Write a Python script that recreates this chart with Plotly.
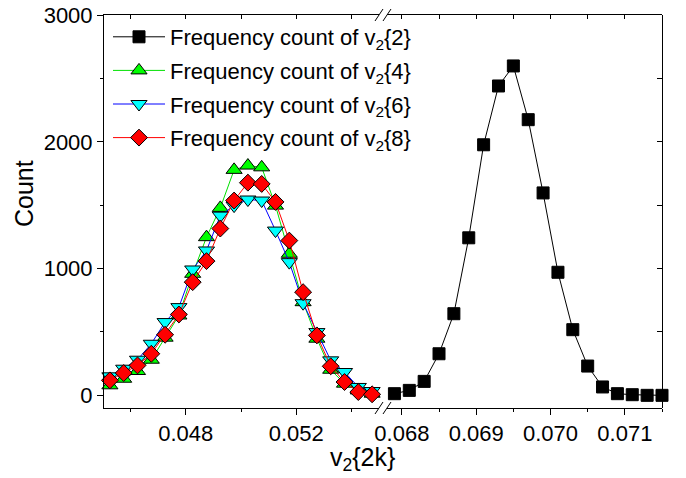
import plotly.graph_objects as go

# ---------------- data ----------------
v2k_left = [0.04525, 0.04575, 0.04625, 0.04675, 0.04725, 0.04775, 0.04825,
            0.04875, 0.04925, 0.04975, 0.05025, 0.05075, 0.05125, 0.05175,
            0.05225, 0.05275, 0.05325, 0.05375, 0.05425, 0.05475]
count_v2_4 = [79, 131, 192, 281, 455, 630, 959, 1248, 1479, 1779, 1813, 1799,
              1497, 1117, 735, 447, 202, 92, 39, 13]
count_v2_6 = [150, 210, 281, 407, 578, 696, 993, 1143, 1418, 1497, 1545, 1537,
              1300, 1051, 727, 499, 276, 184, 66, 34]
count_v2_8 = [118, 176, 236, 328, 478, 638, 893, 1059, 1316, 1537, 1678, 1668,
              1526, 1221, 814, 473, 229, 105, 26, 8]

v2k_right = [0.0679, 0.0681, 0.0683, 0.0685, 0.0687, 0.0689, 0.0691, 0.0693,
             0.0695, 0.0697, 0.0699, 0.0701, 0.0703, 0.0705, 0.0707, 0.0709,
             0.0711, 0.0713, 0.0715]
count_v2_2 = [13, 39, 110, 328, 644, 1243, 1977, 2441, 2599, 2175, 1597, 971,
              518, 231, 66, 13, 5, 0, 0]

y_tickvals = [0, 1000, 2000, 3000]

names = ["Frequency count of v<sub>2</sub>{2}",
         "Frequency count of v<sub>2</sub>{4}",
         "Frequency count of v<sub>2</sub>{6}",
         "Frequency count of v<sub>2</sub>{8}"]

x_title = "v<sub>2</sub>{2k}"
y_title = "Count"

# ---------------- styling ----------------
FONT = "Liberation Sans, Arial, sans-serif"
W, H = 686, 478
# plot area in page pixels
PL, PR, PT, PB = 103, 662, 15, 408
ML, MT = PL, PT
MR, MB = W - PR, H - PB
PW = PR - PL
PH = PB - PT

def px(xp):          # page x pixel -> paper coordinate
    return (xp - PL) / PW

def py(yp):          # page y pixel -> paper coordinate
    return (PB - yp) / PH

left_dom = [0, px(379)]
right_dom = [px(387), 1]
left_rng = [0.045, 0.055]
right_rng = [0.0678, 0.0715]
y_rng = [-100, 3001]

fig = go.Figure()

series = [
    (v2k_right, count_v2_2, "x2", "black", "black", "square", 12, names[0]),
    (v2k_left, count_v2_4, "x", "#00e000", "#00ff00", "triangle-up", 14, names[1]),
    (v2k_left, count_v2_6, "x", "#0000ff", "#00ffff", "triangle-down", 14, names[2]),
    (v2k_left, count_v2_8, "x", "#ff0000", "#ff0000", "diamond", 13, names[3]),
]
for i, (xs, ys, xa, lc, fc, sym, sz, nm) in enumerate(series):
    fig.add_trace(go.Scatter(
        x=xs, y=ys, xaxis=xa, yaxis="y", mode="lines+markers", name=nm,
        legendgroup="g%d" % i, cliponaxis=False,
        line=dict(color=lc, width=1),
        marker=dict(symbol=sym, size=sz, color=fc,
                    line=dict(color="black", width=1)),
    ))

# empty helper traces so that the mirrored tick axes exist
for xa, ya in (("x3", "y"), ("x4", "y"), ("x", "y2")):
    fig.add_trace(go.Scatter(x=[], y=[], xaxis=xa, yaxis=ya, showlegend=False,
                             hoverinfo="skip"))

tickfont = dict(family=FONT, size=22, color="black")
common_x = dict(showline=True, linecolor="black", linewidth=1, mirror=True,
                ticks="outside", ticklen=6, tickwidth=1, tickcolor="black",
                showgrid=False, zeroline=False, tickformat=".3f",
                tickfont=tickfont, anchor="y", automargin=False,
                ticklabeloverflow="allow")
blank = dict(showticklabels=False, showline=False, showgrid=False,
             zeroline=False, automargin=False, tickcolor="black")

fig.update_layout(
    template="none",
    width=W, height=H, autosize=False,
    margin=dict(l=ML, r=MR, t=MT, b=MB, autoexpand=False),
    plot_bgcolor="white", paper_bgcolor="white",
    font=dict(family=FONT, size=22, color="black"),
    xaxis=dict(domain=left_dom, range=left_rng, tick0=0.044, dtick=0.004,
               minor=dict(tick0=0.044, dtick=0.002, ticks="outside",
                          ticklen=3, tickcolor="black"),
               **common_x),
    xaxis2=dict(domain=right_dom, range=right_rng, tick0=0.068, dtick=0.001,
                minor=dict(tick0=0.068, dtick=0.0005, ticks="outside",
                           ticklen=3, tickcolor="black"),
                **common_x),
    xaxis3=dict(overlaying="x", side="top", anchor="y", range=left_rng,
                tick0=0.044, dtick=0.002, ticks="inside", ticklen=4, **blank),
    xaxis4=dict(overlaying="x2", side="top", anchor="y", range=right_rng,
                tick0=0.068, dtick=0.0005, ticks="inside", ticklen=4, **blank),
    yaxis=dict(domain=[0, 1], range=y_rng, anchor="free", position=0,
               showline=True, linecolor="black", linewidth=1,
               ticks="outside", ticklen=6, tickcolor="black",
               tickmode="array", tickvals=y_tickvals,
               minor=dict(tickmode="linear", tick0=0, dtick=500,
                          ticks="outside", ticklen=3, tickcolor="black"),
               showgrid=False, zeroline=False, tickfont=tickfont,
               automargin=False, ticklabeloverflow="allow"),
    yaxis2=dict(overlaying="y", side="right", anchor="free", position=1,
                range=y_rng, ticks="inside", ticklen=5, dtick=500, tick0=0,
                showticklabels=False, showgrid=False, zeroline=False,
                showline=True, linecolor="black", linewidth=1,
                tickcolor="black", automargin=False),
    legend=dict(x=px(108), y=py(16), xanchor="left", yanchor="top",
                font=dict(family=FONT, size=22, color="black"),
                bgcolor="rgba(0,0,0,0)", tracegroupgap=2, itemwidth=52),
    showlegend=True,
)

# axis titles
fig.add_annotation(text=y_title, xref="paper", yref="paper", x=px(24),
                   y=py(194), textangle=-90, showarrow=False,
                   xanchor="center", yanchor="middle",
                   font=dict(family=FONT, size=25, color="black"))
fig.add_annotation(text=x_title, xref="paper", yref="paper", x=px(362),
                   y=py(459), showarrow=False, xanchor="center",
                   yanchor="middle",
                   font=dict(family=FONT, size=25, color="black"))

# axis break marks "//"
for yc in (PB, PT):
    for xc in (379, 387):
        fig.add_shape(type="line", xref="paper", yref="paper",
                      x0=px(xc - 4), y0=py(yc + 6), x1=px(xc + 4), y1=py(yc - 6),
                      line=dict(color="black", width=1))

# place the figure at the page's top-left corner (no default body margin)
fig.write_html("out.html",
               config={"displayModeBar": False},
               post_script="document.body.style.margin='0px';")
